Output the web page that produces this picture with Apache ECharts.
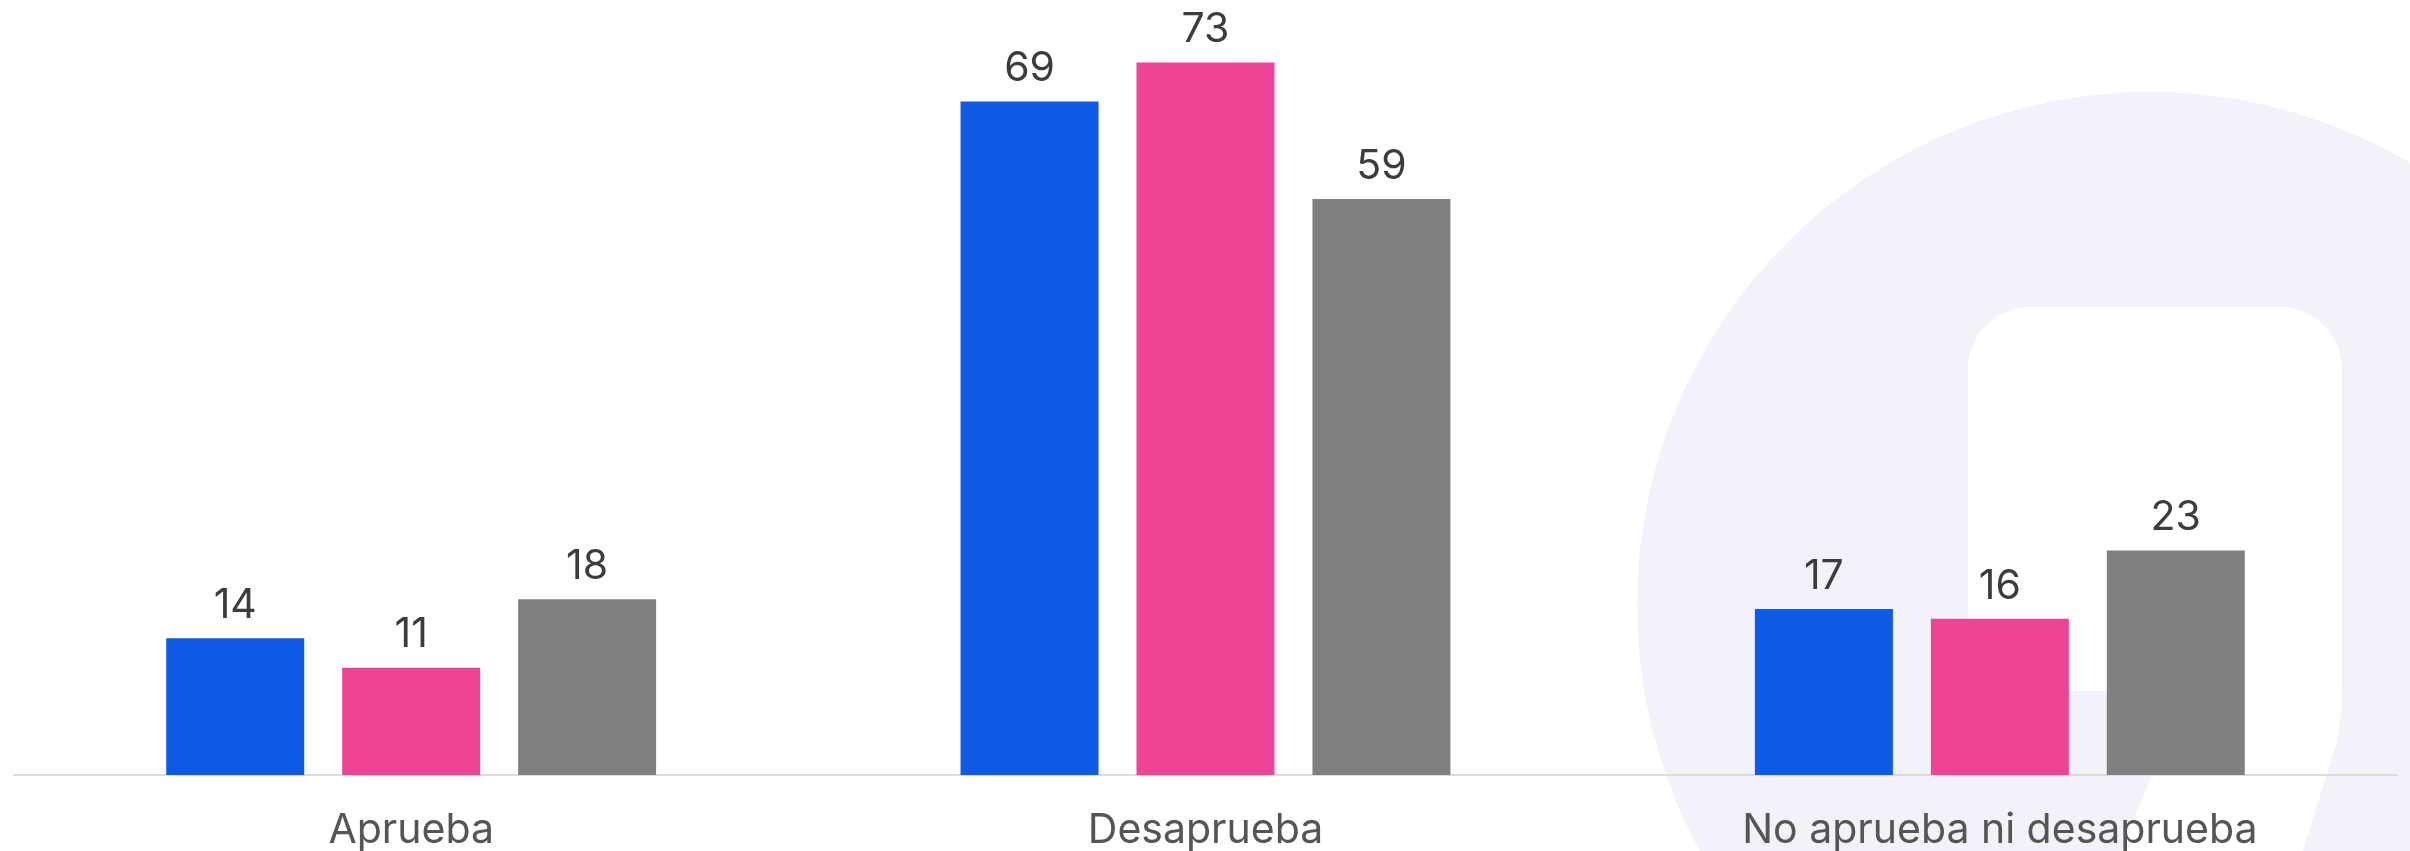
<!DOCTYPE html>
<html>
<head>
<meta charset="utf-8">
<script src="https://cdn.jsdelivr.net/npm/echarts@6/dist/echarts.min.js"></script>
<style>
html,body{margin:0;padding:0;background:#fff;}
#c{width:2410px;height:851px;}
</style>
</head>
<body>
<div id="c"></div>
<script>
const categories = ['Aprueba', 'Desaprueba', 'No aprueba ni desaprueba'];
const seriesA = [14, 69, 17];
const seriesB = [11, 73, 16];
const seriesC = [18, 59, 23];
const seriesNames = ['Serie 1', 'Serie 2', 'Serie 3'];
const colors = ['#0f5ae6', '#ed4496', '#808080'];

const chart = echarts.init(document.getElementById('c'), null, {renderer: 'canvas'});

const labelStyle = {
  show: true,
  position: 'top',
  distance: 12,
  fontFamily: 'Inter',
  fontSize: 41,
  color: '#3c3c3c'
};

function mk(name, data, color) {
  return {
    name: name,
    type: 'bar',
    data: data,
    barWidth: 138,
    barGap: '27.5%',
    itemStyle: {color: color},
    label: labelStyle,
    z: 5
  };
}

chart.setOption({
  animation: false,
  backgroundColor: '#ffffff',
  graphic: [
    {type: 'circle', z: -10, silent: true, shape: {cx: 2150, cy: 605, r: 513}, style: {fill: '#f2f3fa'}},
    {type: 'rect', z: -9, silent: true, shape: {x: 1968, y: 307, width: 374, height: 384, r: [62, 62, 4, 0]}, style: {fill: '#ffffff'}},
    {type: 'polygon', z: -9, silent: true, shape: {points: [[2185, 685], [2342, 685], [2341, 715], [2336, 745], [2325, 780], [2314, 815], [2303, 851], [2122, 851], [2135, 815], [2150, 780], [2166, 735]]}, style: {fill: '#ffffff'}}
  ],
  grid: {left: 14, right: 13, top: 0, bottom: 73.5, containLabel: false},
  xAxis: {
    type: 'category',
    data: categories,
    axisLine: {show: true, lineStyle: {color: '#dcdcdc', width: 2}},
    axisTick: {show: false},
    axisLabel: {fontFamily: 'Inter', fontSize: 41, color: '#555555', margin: 35, interval: 0}
  },
  yAxis: {
    type: 'value',
    min: 0,
    max: 79.4,
    show: false,
    splitLine: {show: false}
  },
  series: [
    mk(seriesNames[0], seriesA, colors[0]),
    mk(seriesNames[1], seriesB, colors[1]),
    mk(seriesNames[2], seriesC, colors[2])
  ]
});
</script>
</body>
</html>
